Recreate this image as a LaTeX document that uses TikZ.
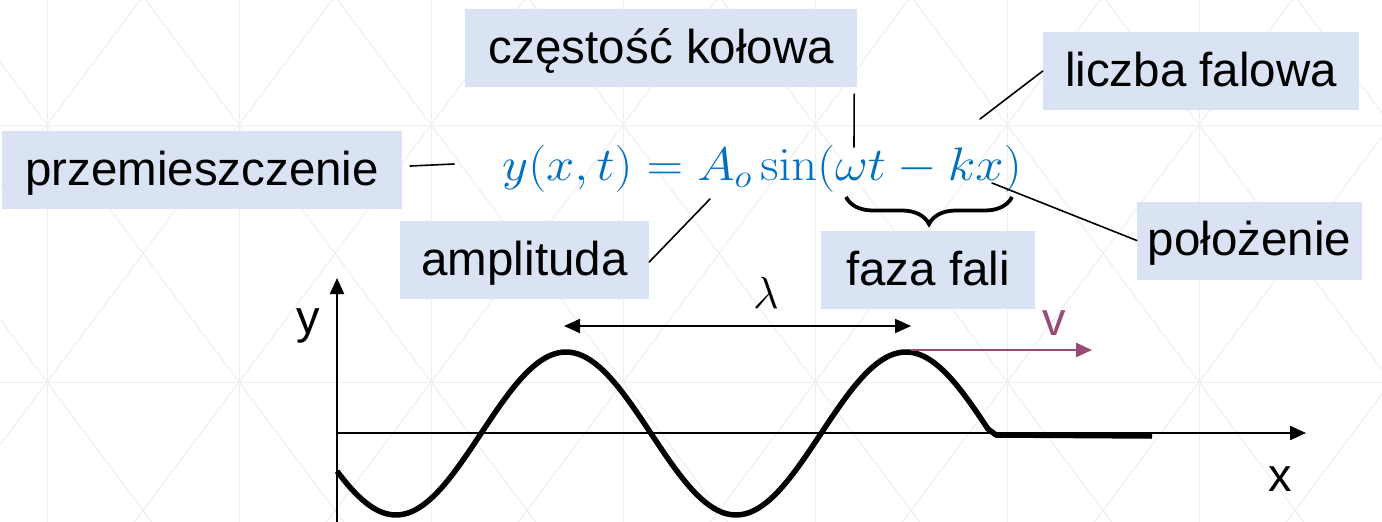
\RequirePackage{fix-cm}
\documentclass[tikz,border=0pt]{standalone}
\usepackage[no-math]{fontspec}
\usepackage{graphicx}
\setmainfont{Liberation Sans}
\usetikzlibrary{arrows.meta,decorations.pathreplacing}
\definecolor{boxblue}{RGB}{218,227,243}
\definecolor{eqblue}{RGB}{0,112,192}
\definecolor{velpurp}{RGB}{152,76,116}
\definecolor{gridgray}{RGB}{238,238,238}

\begin{document}
\begin{tikzpicture}[x=1pt,y=-1pt,
    lbl/.style={fill=boxblue,minimum height=78pt,inner xsep=0pt,
                text height=35pt,text depth=5pt,font=\fontsize{47.5}{56}\selectfont},
    lead/.style={line width=1.6pt,line cap=round},
    axis/.style={-{Triangle[length=16pt,width=14pt]},line width=2.2pt},
    wavel/.style={line width=5.5pt,line join=round},
    gridln/.style={draw=gridgray,line width=1pt},
    axlab/.style={anchor=base,font=\fontsize{47}{56}\selectfont}
  ]
  % slide background
  \fill[white] (0,0) rectangle (1382,522);
  \useasboundingbox (0,0) rectangle (1382,522);
  \begin{scope}
    \clip (0,0) rectangle (1382,522);
    \foreach \k in {0,...,6}
      \draw[gridln] ({47+192*\k},0) -- ({47+192*\k},522);
    \foreach \h in {125,382}
      \draw[gridln] (0,\h) -- (1382,\h);
    \foreach \k in {-2,...,8}{
      \draw[gridln] ({47+192*\k-100.9},-10) -- ({47+192*\k+304.2},532);
      \draw[gridln] ({47+192*\k+100.9},-10) -- ({47+192*\k-304.2},532);
    }
  \end{scope}

  % labels
  \node[lbl,minimum width=400pt] (przem)  at (202,170)     {przemieszczenie};
  \node[lbl,minimum width=392pt] (czest)  at (661,48)      {częstość kołowa};
  \node[lbl,minimum width=316pt] (liczba) at (1201,71)     {liczba falowa};
  \node[lbl,minimum width=249pt] (ampl)   at (524.5,260)   {amplituda};
  \node[lbl,minimum width=214pt] (faza)   at (928,270)     {faza fali};
  \node[lbl,minimum width=225pt] (poloz)  at (1249.5,240.5) {położenie};

  \node[anchor=base west,inner sep=0pt,text=eqblue,font=\fontsize{47}{56}\selectfont]
        (eq) at (502,180) {\scalebox{1.08}[1]{$y(x,t) = A_o \sin(\omega t - kx)$}};

  \coordinate (eqY) at (454,164);
  \coordinate (eqA) at (710,199);
  \coordinate (eqW) at (854,147);
  \coordinate (eqK) at (980,119);
  \coordinate (eqX) at (992,183);
  \draw[lead] ([shift={(8,-4)}]przem.east) -- (eqY);
  \draw[lead] ([shift={(0,2)}]ampl.east) -- (eqA);
  \draw[lead] ([shift={(-3,7)}]czest.south east) -- (eqW);
  \draw[lead] (liczba.west) -- (eqK);
  \draw[lead] (poloz.west) -- (eqX);

  \coordinate (brL) at (846,197);
  \coordinate (brR) at (1012,197);
  \draw[line width=3.8pt,decorate,decoration={brace,mirror,amplitude=27pt}] (brL) -- (brR);

  % wave plot
  \coordinate (orig) at (337,433);
  \coordinate (ybot) at (337,522);
  \coordinate (ytop) at (337,278);
  \coordinate (xend) at (1306,433);
  \draw[axis] (ybot) -- (ytop);
  \draw[axis] (orig) -- (xend);
  \node[axlab] (ylab) at (308,333) {y};
  \node[axlab] (xlab) at (1280,491) {x};

  \draw[wavel] plot[domain=337:988,samples=160] (\x,{433.5-81.5*sin((\x-481)*1.0588)})
        -- (996,435) -- (1152,436);

  \coordinate (lamL) at (564,326);
  \coordinate (lamR) at (911,326);
  \draw[{Triangle[length=16pt,width=14pt]}-{Triangle[length=16pt,width=14pt]},line width=2pt]
        (lamL) -- (lamR);
  \node[anchor=base,font=\fontsize{45}{54}\selectfont] (lam) at (766,308) {$\lambda$};

  \coordinate (vbeg) at (911,350);
  \coordinate (vend) at (1092,350);
  \draw[-{Triangle[length=16pt,width=14pt]},line width=2.7pt,draw=velpurp] (vbeg) -- (vend);
  \node[axlab,text=velpurp] (vlab) at (1054,335) {v};
\end{tikzpicture}
\end{document}
